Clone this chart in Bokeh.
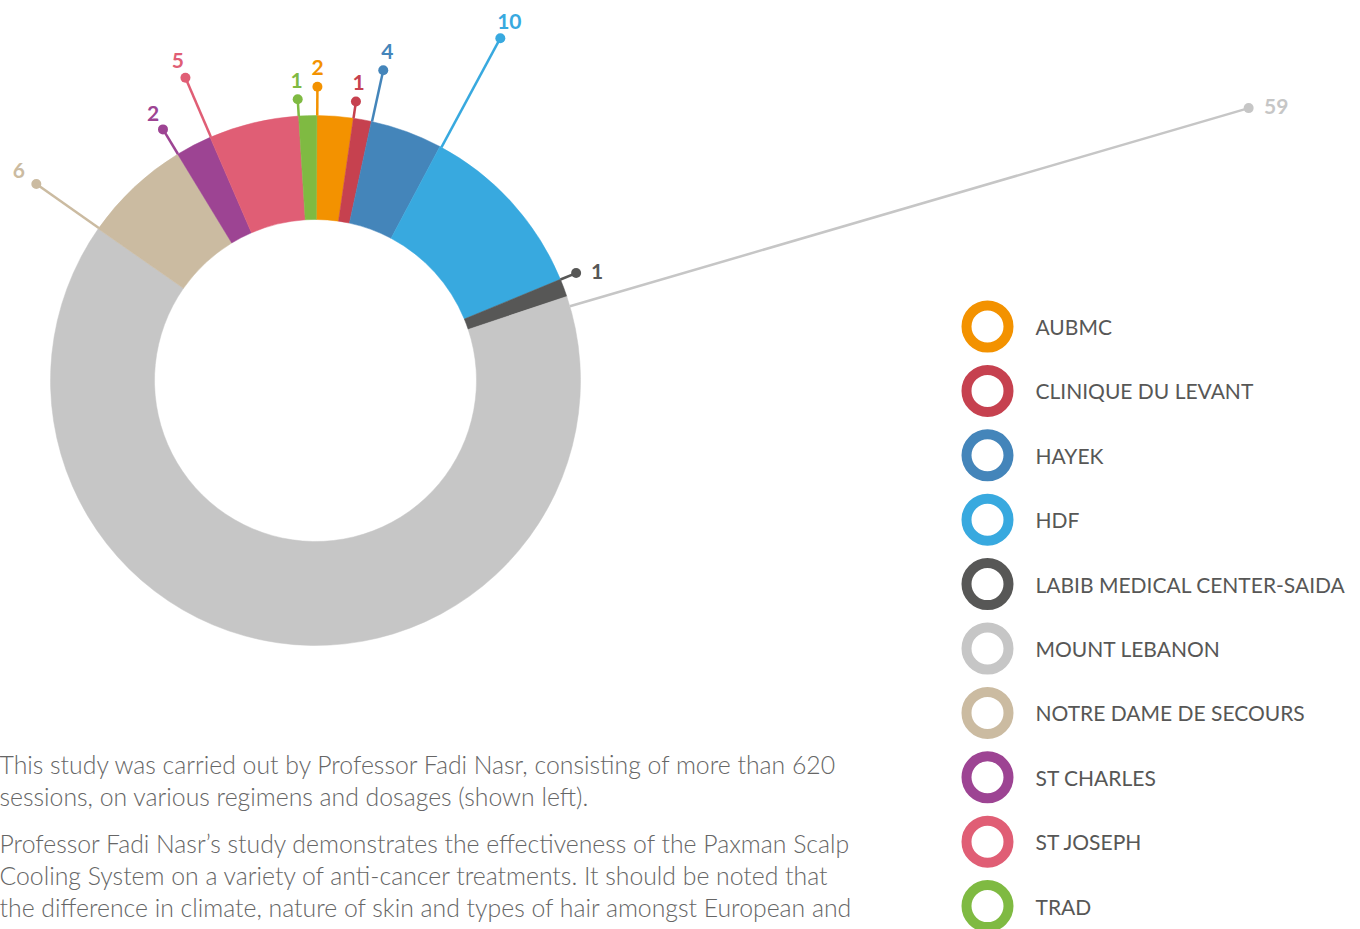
import math
from bokeh.plotting import figure
from bokeh.models import Range1d, ColumnDataSource
from bokeh.core.properties import value
from bokeh.embed import file_html
from bokeh.resources import INLINE

# ---- data ----
hospitals = ["AUBMC", "CLINIQUE DU LEVANT", "HAYEK", "HDF",
             "LABIB MEDICAL CENTER-SAIDA", "MOUNT LEBANON",
             "NOTRE DAME DE SECOURS", "ST CHARLES", "ST JOSEPH", "TRAD"]
sessions = [2, 1, 4, 10, 1, 59, 6, 2, 5, 1]
colors = ["#F39200", "#C6414F", "#4485BA", "#38A9DF", "#575756",
          "#C6C6C6", "#CBBBA1", "#9D4493", "#E05E75", "#7FBA42"]
paragraph1 = ["This study was carried out by Professor Fadi Nasr, consisting of more than 620",
              "sessions, on various regimens and dosages (shown left)."]
paragraph2 = ["Professor Fadi Nasr\u2019s study demonstrates the effectiveness of the Paxman Scalp",
              "Cooling System on a variety of anti-cancer treatments. It should be noted that",
              "the difference in climate, nature of skin and types of hair amongst European and"]

# ---- layout constants ----
CX, CY = 315, -380
R_OUT, R_IN = 265, 161
ROT = 0.3
LEADER_K = 11.9
LEADER_A = 5
LEADER_SHIFT = 0.0095   # fraction of slice span the leader sits past the slice start

p = figure(width=1368, height=937, x_range=Range1d(-8, 1360), y_range=Range1d(-929, 8),
           output_backend="svg", toolbar_location=None, min_border=0,
           outline_line_color=None, background_fill_color="white")
p.styles = {"margin": "-8px"}
p.axis.visible = False
p.xgrid.visible = False
p.ygrid.visible = False

total = sum(sessions)
starts, ends = [], []
cum = 0
for v in sessions:
    starts.append(ROT + cum / total * 360)
    cum += v
    ends.append(ROT + cum / total * 360)

wsrc = ColumnDataSource(dict(
    start=[math.radians(90 - s) for s in starts],
    end=[math.radians(90 - e) for e in ends],
    color=colors))
p.annular_wedge(x=CX, y=CY, inner_radius=R_IN, outer_radius=R_OUT,
                start_angle="start", end_angle="end", direction="clock",
                fill_color="color", line_color="color", line_width=0.5, source=wsrc)

# leaders
seg = dict(x0=[], y0=[], x1=[], y1=[], color=[])
groups = {"left": dict(x=[], y=[], t=[], c=[]),
          "right": dict(x=[], y=[], t=[], c=[]),
          "center": dict(x=[], y=[], t=[], c=[])}
for s, e, v, c in zip(starts, ends, sessions, colors):
    a = math.radians(s + LEADER_SHIFT * (e - s))
    dx, dy = math.sin(a), math.cos(a)
    r1 = R_OUT + LEADER_A + LEADER_K * v
    seg["x0"].append(CX + R_OUT * dx)
    seg["y0"].append(CY + R_OUT * dy)
    seg["x1"].append(CX + r1 * dx)
    seg["y1"].append(CY + r1 * dy)
    seg["color"].append(c)
    if dx > 0.75:
        g = groups["left"]
        g["x"].append(CX + (r1 + 16) * dx)
        g["y"].append(CY + r1 * dy + 2)
    elif dx < -0.75:
        g = groups["right"]
        g["x"].append(CX + (r1 + 14) * dx)
        g["y"].append(CY + (r1 + 14) * dy + 5)
    else:
        g = groups["center"]
        g["x"].append(CX + (r1 + 19) * dx)
        g["y"].append(CY + (r1 + 19) * dy)
    g["t"].append(str(v))
    g["c"].append(c)

ssrc = ColumnDataSource(seg)
p.segment(x0="x0", y0="y0", x1="x1", y1="y1", line_color="color", line_width=2.5, source=ssrc)
p.scatter(x="x1", y="y1", size=10, fill_color="color", line_color=None, source=ssrc)
for align, g in groups.items():
    if not g["t"]:
        continue
    p.text(x="x", y="y", text="t", text_color="c", source=ColumnDataSource(g),
           text_align=align, text_baseline="middle",
           text_font=value("Lato"), text_font_style="bold", text_font_size="21px")

# legend
ly = [-(326 + 64.4 * i) for i in range(len(hospitals))]
lsrc = ColumnDataSource(dict(y=ly, name=hospitals, color=colors))
p.scatter(x=987, y="y", size=42, line_width=10, line_color="color", fill_color="white", source=lsrc)
p.text(x=1035, y="y", text="name", source=lsrc, text_baseline="middle",
       text_color="#575756", text_font=value("Lato"), text_font_size="21px")

# paragraph
para_y = [-764, -796, -843, -875, -907]
p.text(x=-1, y=para_y, text=paragraph1 + paragraph2, text_baseline="middle",
       text_color="#666666", text_font=value("Lato Light"),
       text_font_size="24.8px")

open("out.html", "w").write(file_html(p, INLINE))
